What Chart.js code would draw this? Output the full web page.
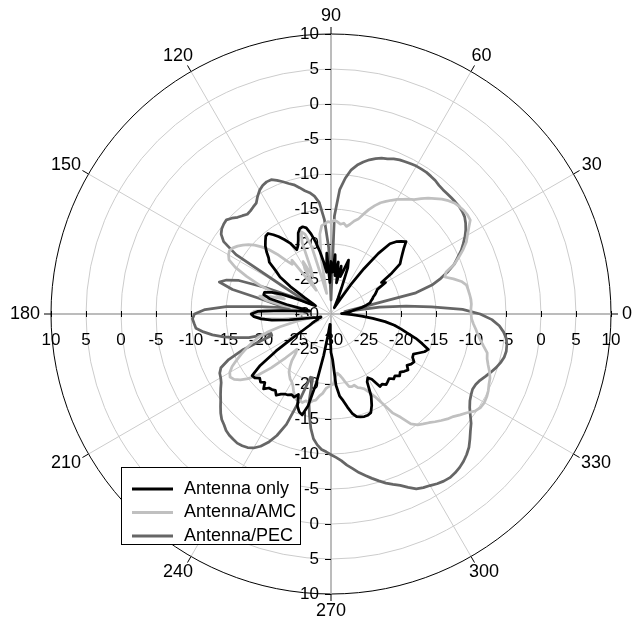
<!DOCTYPE html>
<html>
<head>
<meta charset="utf-8">
<title>Radiation pattern</title>
<script src="https://cdn.jsdelivr.net/npm/chart.js@4.4.1/dist/chart.umd.min.js"></script>
<style>
  html, body { margin: 0; padding: 0; background: #fff; }
  #wrap { width: 633px; height: 624px; position: relative; }
</style>
</head>
<body>
<div id="wrap"><canvas id="pattern"></canvas></div>
<script>
// Sample angles in degrees (0 = right, counter-clockwise), 2 degree steps
const angles = Array.from({ length: 180 }, (_, i) => i * 2);

// Gain in dB at each angle above
const antennaOnly = [
  -28, -28.5, -28, -27.5, -27, -26.5, -25.5, -24.8, -24.2, -24,
  -23.7, -23.5, -23.1, -22.8, -22.5, -21, -21.5, -19.5, -17.8, -17.3,
  -16.7, -16, -15.1, -15.6, -16.1, -16.9, -19, -22, -25, -27.5,
  -28.5, -29, -28.5, -27.5, -26, -23, -21.9, -23.5, -24.5, -23,
  -25.5, -22.5, -24.5, -21.5, -24, -22.5, -25.5, -21.3, -24, -22.5,
  -21, -19.5, -18.2, -17.2, -16.9, -17, -17.5, -18.5, -19.2, -19.6,
  -18.3, -17.5, -16.7, -16, -15.4, -15.5, -16, -16.5, -17.2, -18,
  -18.5, -20, -21, -23, -25.5, -27, -27.5, -27, -25, -22.5,
  -21, -20, -20, -21, -23.5, -26, -27, -26, -23, -19.5,
  -18.6, -19, -20, -21.5, -24, -26.5, -27.5, -28, -28.5, -28.5,
  -28, -28, -27.5, -27, -26.5, -25.5, -23.5, -20.5, -17.5, -15.7,
  -15.8, -16.3, -16, -16.4, -15.6, -16.2, -16.3, -16.5, -16, -16.5,
  -16.8, -16.9, -17.2, -17, -17.6, -16, -15.3, -15, -16.5, -19.9,
  -24, -27, -28.5, -28.5, -27, -24.5, -23.5, -19.8, -18.2, -17.5,
  -16.5, -15.5, -14.9, -14.7, -14.6, -14.6, -14.8, -15.7, -16.9, -19,
  -19.5, -19, -17.5, -17.6, -17.2, -17.4, -17.6, -17.1, -17.3, -16.8,
  -17.1, -16.7, -16.4, -16.9, -16.5, -16.3, -16.8, -16.9, -16.3, -15.6,
  -15.2, -16.3, -17.4, -18.8, -19.8, -20.8, -22.2, -24, -25.6, -27
];

const antennaAMC = [
  -10, -10, -9.9, -9.9, -10, -10.1, -10.2, -10.8, -11.8, -12.9,
  -12.5, -11, -10, -9, -8.1, -7.5, -6.8, -6, -5.9, -5.95,
  -6.1, -6.3, -6.7, -7.2, -7.8, -8.4, -9.1, -9.8, -10.2, -10.7,
  -11.1, -11.6, -12.1, -12.6, -13.3, -14.1, -15, -15.9, -16.3, -16.9,
  -17.3, -16.9, -17.1, -16.8, -16.6, -16.9, -16.8, -17.1, -17.3, -18.5,
  -22, -27, -25, -20, -18, -17.5, -19, -23, -24, -21.5,
  -22.5, -26, -24, -20.5, -21, -20, -18.5, -17.2, -16.2, -15.3,
  -14.6, -14, -13.5, -13.1, -12.9, -13.1, -13.5, -14.8, -16.8, -19,
  -21.5, -23, -21, -19.5, -20.5, -23, -27, -26, -21, -19,
  -18.5, -19, -20.5, -23, -26.5, -27.5, -25, -22.5, -20.5, -19,
  -18, -17, -16, -15, -14, -13.3, -13, -13.3, -14, -15,
  -16.5, -18.5, -21, -23, -22.5, -21.3, -20.5, -19.8, -19.4, -19,
  -18.8, -18.4, -17.8, -17.2, -16.8, -16.9, -16.7, -17.1, -16.9, -17.3,
  -17.5, -18.2, -18.6, -19.3, -19.6, -19.8, -20, -21, -21.5, -21.2,
  -20.7, -20, -19.3, -19.2, -19.3, -18.8, -18.6, -18.3, -17.6, -16.6,
  -15.2, -13.3, -12.2, -10.6, -9.9, -9.5, -9.1, -8.6, -8.1, -7.6,
  -7.2, -6.6, -6, -5.2, -4.8, -4.7, -4.8, -5, -5.3, -5.5,
  -5.9, -6.4, -6.8, -7, -7.7, -8.3, -8.8, -9.2, -9.6, -9.9
];

const antennaPEC = [
  -8.7, -11.2, -15.6, -19.2, -23, -28, -26, -17.5, -15, -13.5,
  -12.2, -11, -10.2, -9.3, -8.6, -7.9, -7.3, -6.8, -6.4, -6.2,
  -6.1, -6.1, -6.1, -6.1, -6.1, -6.0, -5.8, -5.7, -5.6, -5.6,
  -5.6, -5.7, -5.8, -5.9, -6.1, -6.4, -6.6, -6.9, -7.3, -7.8,
  -8.4, -9.2, -10.5, -12.2, -16, -28, -20.5, -16.5, -14, -13,
  -12.4, -12, -11.4, -10.8, -10.4, -9.9, -9.4, -9, -9, -9.2,
  -9.6, -10.2, -10.9, -11.1, -11.3, -11.4, -11.1, -10.8, -10.3, -9.9,
  -10, -10.2, -10.6, -11.5, -14, -22, -25, -26.5, -24, -20,
  -16, -14.3, -13.4, -15.5, -20, -22, -24, -20, -15, -12,
  -10.5, -10.2, -10.4, -10.6, -11.6, -12.8, -14.3, -16, -17.8, -21,
  -21, -16.5, -14, -12.5, -12, -11.8, -11.5, -11, -10.5, -10,
  -9.4, -8.8, -8.3, -8, -7.6, -7.4, -7.3, -7.2, -7.3, -7.5,
  -7.9, -8.6, -9.6, -11, -13, -16.9, -20.5, -20.5, -17, -15.2,
  -13.4, -12, -11.2, -10.6, -10.3, -9.9, -9.5, -9, -8.3, -7.7,
  -7, -6.4, -5.8, -5.2, -4.6, -4.1, -3.6, -2.9, -2.2, -1.9,
  -1.7, -1.4, -1.2, -1.1, -1.2, -1.4, -1.7, -2.1, -2.6, -3.3,
  -4, -4.6, -5.4, -6.1, -6.6, -6.9, -7.1, -7, -6.7, -6.2,
  -5.7, -5.2, -4.8, -4.5, -4.4, -4.5, -4.7, -5.2, -5.9, -7
];

// Axis tick labels
const radialTicks = [10, 5, 0, -5, -10, -15, -20, -25, -30];
const angleTicks = [0, 30, 60, 90, 120, 150, 180, 210, 240, 270, 300, 330];

const seriesNames = ['Antenna only', 'Antenna/AMC', 'Antenna/PEC'];
const seriesColors = ['#000000', '#c0c0c0', '#666666'];

// The radar scale runs clockwise from its start angle, so walk the
// samples in reverse to get counter-clockwise angles starting at 0.
const order = angles.map((_, i) => (angles.length - i) % angles.length);
const labels = order.map(k => angles[k]);
const pick = arr => order.map(k => arr[k]);

const FONT = '"Liberation Sans", Arial, Helvetica, sans-serif';

// Value axes through the centre, angle ticks/labels and the legend box
const polarDecor = {
  id: 'polarDecor',
  beforeDatasetsDraw(chart) {
    const s = chart.scales.r;
    const ctx = chart.ctx;
    const xc = s.xCenter, yc = s.yCenter;
    const R = s.getDistanceFromCenterForValue(s.max);
    ctx.save();
    ctx.strokeStyle = '#000';
    ctx.lineWidth = 1;

    // angle tick marks outside the outer ring
    angleTicks.forEach(a => {
      const t = a * Math.PI / 180, c = Math.cos(t), sn = Math.sin(t);
      ctx.beginPath();
      ctx.moveTo(xc + c * R, yc - sn * R);
      ctx.lineTo(xc + c * (R + 7), yc - sn * (R + 7));
      ctx.stroke();
    });

    // tick marks on the horizontal and vertical value axes
    radialTicks.forEach(v => {
      const d = s.getDistanceFromCenterForValue(v);
      if (d === 0) return;
      [-1, 1].forEach(sg => {
        const x = Math.round(xc + sg * d) + 0.5;
        ctx.beginPath(); ctx.moveTo(x, yc - 3); ctx.lineTo(x, yc + 3); ctx.stroke();
        const y = Math.round(yc + sg * d) + 0.5;
        ctx.beginPath(); ctx.moveTo(xc - 6, y); ctx.lineTo(xc, y); ctx.stroke();
      });
    });

    // value labels along both axes
    ctx.fillStyle = '#000';
    ctx.font = '17px ' + FONT;
    ctx.textBaseline = 'middle';
    radialTicks.forEach(v => {
      const d = s.getDistanceFromCenterForValue(v);
      const sides = d === 0 ? [0] : [-1, 1];
      sides.forEach(sg => {
        ctx.textAlign = 'center';
        ctx.fillText(String(v), xc + sg * d, yc + 26);
        ctx.textAlign = 'right';
        ctx.fillText(String(v), xc - 12, yc + sg * d);
      });
    });

    // angle labels
    ctx.font = '18px ' + FONT;
    ctx.textAlign = 'center';
    angleTicks.forEach(a => {
      const t = a * Math.PI / 180, c = Math.cos(t), sn = Math.sin(t);
      const txt = String(a);
      const w = ctx.measureText(txt).width, h = 13;
      const x = xc + c * (R + 11) + c * w / 2;
      const y = yc - sn * (R + 11) - sn * h / 2;
      ctx.fillText(txt, x, y);
    });
    ctx.restore();
  },
  afterDraw(chart) {
    const ctx = chart.ctx;
    const bx = 121.5, by = 467.5, bw = 179, bh = 77;
    ctx.save();
    ctx.fillStyle = '#fff';
    ctx.fillRect(bx, by, bw, bh);
    ctx.strokeStyle = '#000';
    ctx.lineWidth = 1;
    ctx.strokeRect(bx, by, bw, bh);
    ctx.font = '18px ' + FONT;
    ctx.textAlign = 'left';
    ctx.textBaseline = 'middle';
    chart.data.datasets.forEach((ds, i) => {
      const y = 489 + i * 23.5;
      ctx.strokeStyle = ds.borderColor;
      ctx.lineWidth = 3;
      ctx.beginPath(); ctx.moveTo(132, y); ctx.lineTo(173, y); ctx.stroke();
      ctx.fillStyle = '#000';
      ctx.fillText(ds.label, 184, y);
    });
    ctx.restore();
  }
};

const series = [antennaOnly, antennaAMC, antennaPEC];

new Chart(document.getElementById('pattern'), {
  type: 'radar',
  data: {
    labels: labels,
    datasets: series.map((arr, i) => ({
      label: seriesNames[i],
      data: pick(arr),
      borderColor: seriesColors[i],
      backgroundColor: seriesColors[i],
      borderWidth: 2.75,
      fill: false
    }))
  },
  options: {
    responsive: true,
    maintainAspectRatio: false,
    animation: false,
    events: [],
    layout: { padding: { left: 51, right: 22, top: 34, bottom: 30 } },
    elements: {
      point: { radius: 0, hoverRadius: 0 },
      line: { tension: 0, borderJoinStyle: 'round' }
    },
    plugins: { legend: { display: false }, tooltip: { enabled: false } },
    scales: {
      r: {
        min: -30,
        max: 10,
        startAngle: 90,
        ticks: { display: false, stepSize: 5 },
        pointLabels: { display: false },
        grid: {
          circular: true,
          color: c => (c.tick && c.tick.value === 10) ? '#000000' : '#cccccc',
          lineWidth: 1
        },
        angleLines: {
          display: true,
          color: c => (c.index % 45 === 0) ? '#a6a6a6' : '#cccccc',
          lineWidth: c => (c.index % 15 === 0) ? ((c.index % 45 === 0) ? 1.5 : 1) : 0
        }
      }
    }
  },
  plugins: [polarDecor]
});
</script>
</body>
</html>
